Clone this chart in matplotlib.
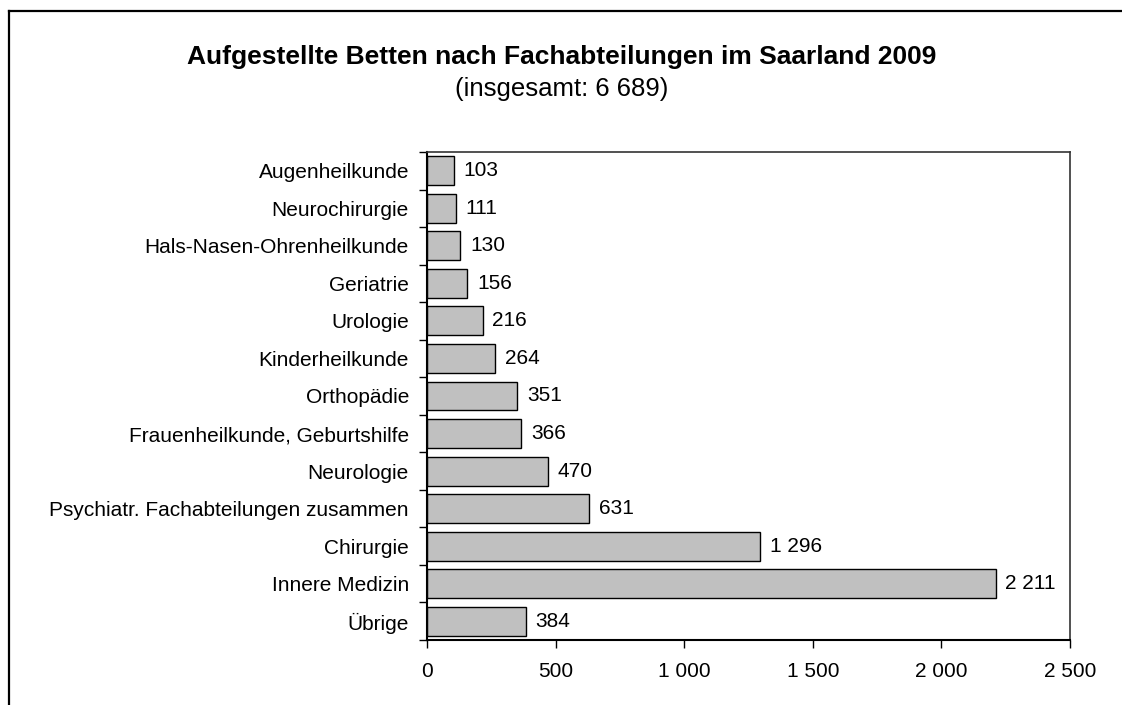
import matplotlib.pyplot as plt
from matplotlib.lines import Line2D
from matplotlib.ticker import FuncFormatter, FixedLocator

plt.rcParams['font.family'] = ['Liberation Sans', 'DejaVu Sans']

categories = ['Augenheilkunde', 'Neurochirurgie', 'Hals-Nasen-Ohrenheilkunde',
              'Geriatrie', 'Urologie', 'Kinderheilkunde', 'Orthopädie',
              'Frauenheilkunde, Geburtshilfe', 'Neurologie',
              'Psychiatr. Fachabteilungen zusammen', 'Chirurgie',
              'Innere Medizin', 'Übrige']
values = [103, 111, 130, 156, 216, 264, 351, 366, 470, 631, 1296, 2211, 384]
xticks = [0, 500, 1000, 1500, 2000, 2500]


def de_num(v, pos=None):
    return '{:,}'.format(int(v)).replace(',', ' ')


fig = plt.figure(figsize=(11.22, 7.05), dpi=100)
ax = fig.add_axes([0.3806, 0.0922, 0.5731, 0.6922])

ypos = list(range(len(categories)))
ax.barh(ypos, values, height=0.77, color='#c0c0c0', edgecolor='black', linewidth=1)
ax.set_ylim(len(categories) - 0.5, -0.5)
ax.set_xlim(0, 2500)

for y, v in zip(ypos, values):
    ax.annotate(de_num(v), xy=(v, y), xytext=(7, 0), textcoords='offset points',
                va='center', ha='left', fontsize=15)

ax.set_yticks(ypos)
ax.set_yticklabels(categories, fontsize=15)
ax.yaxis.set_minor_locator(FixedLocator([i + 0.5 for i in range(-1, len(categories))]))
ax.tick_params(axis='y', which='major', length=0, pad=13)
ax.tick_params(axis='y', which='minor', length=6, width=1, direction='out')
ax.xaxis.set_major_locator(FixedLocator(xticks))
ax.xaxis.set_major_formatter(FuncFormatter(de_num))
ax.tick_params(axis='x', length=6, width=1, direction='out', labelsize=15, pad=10)

for s in ['left', 'bottom']:
    ax.spines[s].set_linewidth(1.5)
    ax.spines[s].set_color('black')
for s in ['top', 'right']:
    ax.spines[s].set_linewidth(1.2)
    ax.spines[s].set_color('#333333')

fig.text(0.501, 0.919, 'Aufgestellte Betten nach Fachabteilungen im Saarland 2009',
         ha='center', va='center', fontsize=19, fontweight='bold')
fig.text(0.501, 0.874, '(insgesamt: 6 689)', ha='center', va='center', fontsize=18.5)

# frame round the chart (only left and top visible)
fig.add_artist(Line2D([9 / 1122, 9 / 1122], [0, 1 - 11 / 705], transform=fig.transFigure,
                      color='black', linewidth=1.6))
fig.add_artist(Line2D([9 / 1122, 1], [1 - 11 / 705, 1 - 11 / 705], transform=fig.transFigure,
                      color='black', linewidth=1.6))

fig.savefig('out.png', dpi=100)
